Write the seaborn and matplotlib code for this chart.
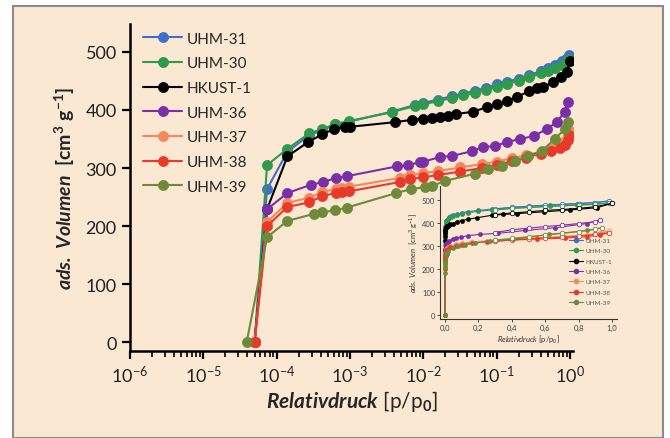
import numpy as np
import pandas as pd
import matplotlib
matplotlib.use("Agg")
import matplotlib.pyplot as plt
import matplotlib.ticker as mticker
from matplotlib.patches import Rectangle
from matplotlib.lines import Line2D
import seaborn as sns

# ── Daten ─────────────────────────────────────────────────────────────────────
names = ["UHM-31", "UHM-30", "HKUST-1", "UHM-36", "UHM-37", "UHM-38", "UHM-39"]
colors = ["#3f6fc6", "#2f9a4c", "#000000", "#7a2ea8", "#f4885c", "#e83a2a", "#6e8a3a"]

p_uhm31 = [5.0e-5, 7.4e-5, 1.4e-4, 2.8e-4, 4.2e-4, 6.3e-4, 9.8e-4, 3.7e-3, 7.8e-3, 0.010,
           0.016, 0.025, 0.035, 0.05, 0.071, 0.10, 0.14, 0.20, 0.28, 0.40, 0.50, 0.63,
           0.79, 0.89, 0.98]
v_uhm31 = [0, 264, 328, 357, 365, 375, 380, 397, 409, 412, 418, 424, 428, 433, 438, 444,
           449, 454, 460, 467, 472, 478, 484, 488, 495]
p_uhm30 = p_uhm31
v_uhm30 = [0, 305, 333, 360, 367, 376, 381, 396, 407, 410, 415, 421, 425, 430, 435, 440,
           445, 450, 456, 463, 467, 472, 477, 480, 487]
p_hkust = [5.0e-5, 7.4e-5, 1.4e-4, 2.7e-4, 4.2e-4, 6.0e-4, 8.5e-4, 1.0e-3, 4.1e-3, 7.0e-3,
           0.010, 0.013, 0.017, 0.022, 0.028, 0.048, 0.074, 0.10, 0.14, 0.19, 0.28, 0.35,
           0.43, 0.59, 0.75, 0.91, 1.0]
v_hkust = [0, 229, 320, 345, 358, 367, 371, 371, 379, 383, 385, 386, 388, 390, 393, 397,
           405, 410, 416, 422, 433, 437, 440, 448, 456, 466, 485]
p_uhm36 = [5.0e-5, 7.4e-5, 1.4e-4, 2.9e-4, 4.3e-4, 6.5e-4, 9.1e-4, 4.4e-3, 6.2e-3, 8.9e-3,
           0.010, 0.017, 0.025, 0.046, 0.065, 0.095, 0.14, 0.21, 0.32, 0.48, 0.66, 0.85, 0.93]
v_uhm36 = [0, 229, 257, 271, 276, 283, 286, 303, 305, 310, 311, 319, 321, 329, 336, 338,
           345, 350, 355, 367, 379, 397, 414]
p_uhm37 = [5.0e-5, 7.4e-5, 1.4e-4, 2.8e-4, 4.2e-4, 6.5e-4, 7.9e-4, 9.8e-4, 4.8e-3, 6.6e-3,
           0.010, 0.016, 0.032, 0.063, 0.10, 0.16, 0.25, 0.40, 0.55, 0.72, 0.85, 0.93, 0.98]
v_uhm37 = [0, 207, 240, 249, 259, 264, 266, 268, 283, 288, 291, 295, 301, 307, 311, 317,
           322, 328, 333, 339, 346, 356, 365]
p_uhm38 = p_uhm37
v_uhm38 = [0, 200, 233, 241, 252, 257, 258, 260, 276, 281, 284, 288, 294, 300, 305, 312,
           318, 325, 330, 334, 340, 348, 357]
p_uhm39 = [3.9e-5, 7.4e-5, 1.4e-4, 3.2e-4, 4.2e-4, 6.3e-4, 9.1e-4, 4.3e-3, 6.9e-3, 0.0105,
           0.013, 0.020, 0.050, 0.076, 0.118, 0.178, 0.27, 0.41, 0.62, 0.85, 0.94]
v_uhm39 = [0, 181, 209, 221, 224, 227, 232, 257, 264, 267, 269, 278, 290, 298, 304, 312,
           321, 329, 350, 367, 379]

# Desorption (nur im Inset, offene Symbole)
p_des = [0.90, 0.80, 0.70, 0.60, 0.50, 0.40, 0.30]
v_des_uhm31 = [488, 484, 480, 477, 472, 467, 460]
v_des_uhm30 = [481, 478, 474, 471, 467, 463, 456]
v_des_hkust = [470, 463, 458, 454, 448, 443, 436]
v_des_uhm36 = [405, 397, 390, 384, 377, 370, 358]
v_des_uhm37 = [352, 345, 341, 337, 333, 329, 325]
v_des_uhm38 = [350, 342, 337, 334, 330, 326, 320]
v_des_uhm39 = [372, 362, 354, 347, 340, 333, 325]

ads_p = [p_uhm31, p_uhm30, p_hkust, p_uhm36, p_uhm37, p_uhm38, p_uhm39]
ads_v = [v_uhm31, v_uhm30, v_hkust, v_uhm36, v_uhm37, v_uhm38, v_uhm39]
des_v = [v_des_uhm31, v_des_uhm30, v_des_hkust, v_des_uhm36, v_des_uhm37, v_des_uhm38, v_des_uhm39]

# ── Stil ──────────────────────────────────────────────────────────────────────
sns.set_theme(style="ticks")
plt.rcParams["font.family"] = ["Lato", "DejaVu Sans"]
plt.rcParams["mathtext.fontset"] = "custom"
plt.rcParams["mathtext.rm"] = "Lato"
plt.rcParams["mathtext.it"] = "Lato:italic"
plt.rcParams["mathtext.bf"] = "Lato:bold"
plt.rcParams["mathtext.bfit"] = "Lato:bold:italic"

beige = "#fbe8d2"
fig = plt.figure(figsize=(6.7, 4.39), dpi=100, facecolor="white")
fig.add_artist(Rectangle((13 / 670, 0), 650 / 670, 432 / 439, transform=fig.transFigure,
                         facecolor=beige, edgecolor="#8a8a8a", lw=1.5, zorder=-5))

ax = fig.add_axes([130 / 670, 1 - 352 / 439, 443 / 670, 327 / 439])
ax.set_facecolor("none")

for name, col, p, v in zip(names, colors, ads_p, ads_v):
    sns.lineplot(x=p, y=v, ax=ax, color=col, marker="o", markersize=7.3, lw=1.5,
                 markeredgecolor=col, markeredgewidth=0.5, label=name,
                 estimator=None, sort=False)

ax.set_xscale("log")
ax.set_xlim(1e-6, 1.1)
ax.set_ylim(-15, 548)
ax.set_yticks([0, 100, 200, 300, 400, 500])
ax.xaxis.set_major_locator(mticker.LogLocator(base=10, numticks=10))
ax.xaxis.set_minor_locator(mticker.LogLocator(base=10, subs=np.arange(2, 10), numticks=20))
ax.xaxis.set_minor_formatter(mticker.NullFormatter())
for s in ["top", "right"]:
    ax.spines[s].set_visible(False)
for s in ["left", "bottom"]:
    ax.spines[s].set_linewidth(1.8)
    ax.spines[s].set_color("black")
ax.tick_params(axis="both", which="major", labelsize=13, width=1.6, length=6,
               color="black", labelcolor="#222222")
ax.tick_params(axis="x", which="minor", width=1.2, length=4, color="black")
ax.set_xlabel(r"$\mathbfit{Relativdruck}$ [p/p$_\mathbf{0}$]", fontsize=15, labelpad=2)
ax.set_ylabel(r"$\mathbfit{ads.\ Volumen}$  [cm$^\mathbf{3}$ g$^\mathbf{-1}$]",
              fontsize=14, fontweight="bold", labelpad=6)

ax.legend(loc="upper left", bbox_to_anchor=(135 / 670, 1 - 25 / 439),
          bbox_transform=fig.transFigure, frameon=False, fontsize=11,
          handlelength=2.6, labelspacing=0.70, borderpad=0, handletextpad=0.3)

# ── Inset (linear) ────────────────────────────────────────────────────────────
ins = fig.add_axes([440 / 670, 1 - 320 / 439, 177 / 670, 133 / 439])
ins.set_facecolor("none")
for name, col, p, v, dv in zip(names, colors, ads_p, ads_v, des_v):
    sns.lineplot(x=p, y=v, ax=ins, color=col, marker="o", markersize=3, lw=0.8,
                 markeredgecolor=col, markeredgewidth=0.4,
                 estimator=None, sort=False, legend=False)
    sns.lineplot(x=[p[-1]] + p_des, y=[v[-1]] + dv, ax=ins, color=col, marker="o",
                 markersize=3.2, lw=0.8, markerfacecolor="white", markeredgecolor=col,
                 markeredgewidth=0.6, estimator=None, sort=False, legend=False)
ins.set_xlim(-0.03, 1.03)
ins.set_ylim(-17, 560)
ins.set_xticks([0, 0.2, 0.4, 0.6, 0.8, 1.0])
ins.xaxis.set_major_formatter(mticker.FuncFormatter(lambda x, _: f"{x:.1f}".replace(".", ",")))
ins.set_yticks([0, 100, 200, 300, 400, 500])
for s in ["top", "right"]:
    ins.spines[s].set_visible(False)
for s in ["left", "bottom"]:
    ins.spines[s].set_linewidth(0.8)
    ins.spines[s].set_color("#333333")
ins.tick_params(axis="both", labelsize=5.5, width=0.6, length=2, pad=1.5,
                color="#333333", labelcolor="#444444")
ins.set_xlabel(r"$\it{Relativdruck}$ [p/p$_0$]", fontsize=5.5, labelpad=1, color="#333333")
ins.set_ylabel(r"$\it{ads.\ Volumen}$  [cm$^3$ g$^{-1}$]", fontsize=5.5, labelpad=2,
               color="#333333")
handles = [Line2D([], [], color=c, marker="o", markersize=3, lw=0.8) for c in colors]
leg = ins.legend(handles, names, loc="lower right", bbox_to_anchor=(0.99, 0.08),
                 frameon=False, fontsize=4.5, handlelength=2.2, labelspacing=0.8,
                 borderpad=0, handletextpad=0.4, labelcolor="#555555")
leg.set_zorder(10)

fig.savefig("out.png", dpi=100, facecolor="white")
